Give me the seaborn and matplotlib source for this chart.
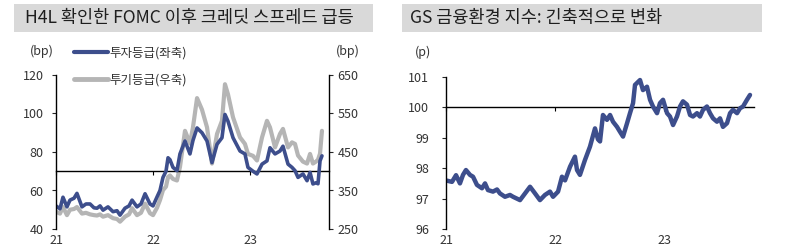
import numpy as np
import pandas as pd
import matplotlib
matplotlib.use("Agg")
import matplotlib.pyplot as plt
from matplotlib.patches import Rectangle
from matplotlib.lines import Line2D
import seaborn as sns

# ---------------- data ----------------
# Left chart: credit spreads (decimal year)
spread_year = [2021.000, 2021.041, 2021.072, 2021.113, 2021.144, 2021.186, 2021.216, 2021.268,
               2021.309, 2021.351, 2021.392, 2021.423, 2021.454, 2021.485, 2021.536, 2021.588,
               2021.629, 2021.660, 2021.711, 2021.753, 2021.784, 2021.835, 2021.876, 2021.918,
               2021.969, 2022.000, 2022.041, 2022.072, 2022.103, 2022.134, 2022.155, 2022.175,
               2022.206, 2022.247, 2022.278, 2022.330, 2022.381, 2022.412, 2022.454, 2022.505,
               2022.557, 2022.608, 2022.660, 2022.711, 2022.742, 2022.773, 2022.825, 2022.897,
               2022.948, 2022.979, 2023.031, 2023.072, 2023.124, 2023.175, 2023.206, 2023.258,
               2023.309, 2023.340, 2023.392, 2023.433, 2023.464, 2023.495, 2023.546, 2023.588,
               2023.619, 2023.649, 2023.680, 2023.701, 2023.722, 2023.742]
ig_spread = [52, 50.5, 56.5, 51.5, 55, 56, 58.5, 51.5,
             53, 53, 51, 50.8, 52, 49.8, 51.5, 49,
             49.5, 47.2, 50.8, 52, 55, 51.5, 53, 58.3,
             53, 52, 56.6, 60, 66.8, 70, 77, 76,
             72, 70.3, 79, 85.7, 79, 86, 92.5, 90,
             85.7, 74.5, 84, 87.4, 99.5, 96, 87.4, 80.5,
             79, 72, 70, 68.6, 73.7, 75.4, 82.2, 79,
             80.5, 83, 73.7, 72, 70.3, 66.8, 68.6, 65.1,
             69.4, 63.4, 64, 63.5, 75.4, 78]
hy_spread = [295, 290, 307, 286, 300, 302, 307, 290,
             292, 288, 286, 285, 288, 282, 286, 278,
             276, 269, 282, 288, 304, 286, 292, 316,
             291, 286, 305, 325, 351, 360, 385, 389,
             380, 376, 411, 505, 472, 514, 590, 560,
             514, 420, 497, 531, 626, 600, 540, 488,
             471, 445, 440, 428, 488, 531, 514, 462,
             497, 510, 462, 475, 471, 441, 425, 420,
             445, 420, 425, 430, 446, 505]

# Right chart: GS financial conditions index
fci_year = [2021.009, 2021.055, 2021.092, 2021.128, 2021.156, 2021.183, 2021.220, 2021.248,
            2021.284, 2021.330, 2021.358, 2021.385, 2021.431, 2021.468, 2021.495, 2021.541,
            2021.587, 2021.615, 2021.679, 2021.725, 2021.771, 2021.817, 2021.862, 2021.908,
            2021.954, 2021.982, 2022.028, 2022.064, 2022.092, 2022.138, 2022.183, 2022.202,
            2022.229, 2022.275, 2022.321, 2022.367, 2022.394, 2022.413, 2022.440, 2022.477,
            2022.505, 2022.532, 2022.569, 2022.596, 2022.624, 2022.661, 2022.688, 2022.716,
            2022.734, 2022.780, 2022.807, 2022.844, 2022.872, 2022.899, 2022.936, 2022.963,
            2022.991, 2023.028, 2023.055, 2023.083, 2023.119, 2023.147, 2023.174, 2023.211,
            2023.239, 2023.266, 2023.303, 2023.330, 2023.358, 2023.394, 2023.422, 2023.450,
            2023.486, 2023.514, 2023.541, 2023.578, 2023.606, 2023.633, 2023.670, 2023.697,
            2023.725, 2023.761, 2023.789]
fci_value = [97.59, 97.55, 97.77, 97.50, 97.78, 97.94, 97.78, 97.72,
             97.45, 97.34, 97.50, 97.28, 97.23, 97.30, 97.17, 97.06,
             97.12, 97.06, 96.95, 97.17, 97.39, 97.17, 96.95, 97.12,
             97.23, 97.06, 97.23, 97.72, 97.60, 98.05, 98.38, 97.94,
             97.78, 98.27, 98.71, 99.31, 98.95, 98.88, 99.75, 99.59,
             99.75, 99.53, 99.36, 99.20, 99.04, 99.48, 99.81, 100.14,
             100.74, 100.90, 100.57, 100.68, 100.25, 100.03, 99.81, 100.14,
             100.25, 99.81, 99.70, 99.42, 99.70, 100.03, 100.20, 100.09,
             99.75, 99.70, 99.81, 99.70, 99.92, 100.03, 99.81, 99.64,
             99.53, 99.64, 99.36, 99.48, 99.81, 99.92, 99.81, 99.97,
             100.03, 100.25, 100.41]

year_ticks = [2021, 2022, 2023]
year_labels = ["21", "22", "23"]
left_ticks = [40, 60, 80, 100, 120]
right_ticks = [250, 350, 450, 550, 650]
fci_ticks = [96, 97, 98, 99, 100, 101]

title_left = "H4L 확인한 FOMC 이후 크레딧 스프레드 급등"
title_right = "GS 금융환경 지수: 긴축적으로 변화"
label_ig = "투자등급(좌축)"
label_hy = "투기등급(우축)"

# ---------------- style ----------------
sns.set_style("white")
plt.rcParams["font.family"] = ["Noto Sans CJK KR", "DejaVu Sans"]
plt.rcParams["axes.unicode_minus"] = False

BLUE = "#3d4e8c"
GRAY = "#b5b5b5"
TXT = "#333333"
TICK_FS = 9

W, H = 800, 252
fig = plt.figure(figsize=(8, 2.52), dpi=100)
fig.patch.set_facecolor("white")

def fx(px):
    return px / W

def fy(py):
    return 1 - py / H

# title boxes
for x0, x1, txt, tx in [(14, 373, title_left, 25), (402, 762, title_right, 410)]:
    fig.patches.append(Rectangle((fx(x0), fy(32)), fx(x1 - x0), (32 - 4) / H,
                                 transform=fig.transFigure, facecolor="#d9d9d9",
                                 edgecolor="none", zorder=0))
    fig.text(fx(tx), fy(18.5), txt, fontsize=12.6, color="#1e1e1e",
             ha="left", va="center", fontweight="medium")

spread_df = pd.DataFrame({"year": spread_year, "ig": ig_spread, "hy": hy_spread})
fci_df = pd.DataFrame({"year": fci_year, "fci": fci_value})

def style_xaxis(ax, cross, xlim):
    ax.set_xlim(*xlim)
    ax.spines["bottom"].set_position(("data", cross))
    ax.spines["bottom"].set_color("black")
    ax.spines["bottom"].set_linewidth(1.0)
    ax.spines["bottom"].set_zorder(1)
    ax.set_xticks(year_ticks)
    ax.tick_params(axis="x", which="both", bottom=True, labelbottom=False,
                   direction="out", length=3, width=0.8, color="black")
    sec = ax.secondary_xaxis("bottom")
    sec.set_xticks(year_ticks, labels=year_labels)
    sec.spines["bottom"].set_visible(False)
    sec.tick_params(axis="x", length=0, pad=3.5, labelsize=TICK_FS, labelcolor=TXT)
    ax.set_xlabel("")

# ---------------- left chart ----------------
axL = fig.add_axes([fx(56), fy(229), fx(329 - 56), (229 - 75) / H])
axR = axL.twinx()

sns.lineplot(data=spread_df, x="year", y="hy", ax=axR, color=GRAY, linewidth=3.0,
             estimator=None, sort=False)
sns.lineplot(data=spread_df, x="year", y="ig", ax=axL, color=BLUE, linewidth=2.6,
             estimator=None, sort=False)
axL.set_zorder(axR.get_zorder() + 1)
axL.patch.set_visible(False)

axL.set_ylim(40, 120)
axR.set_ylim(250, 650)
axL.set_yticks(left_ticks)
axR.set_yticks(right_ticks)
axL.set_ylabel("")
axR.set_ylabel("")
xlim_left = (2021.0, 2021.0 + (329 - 56) / 97)
style_xaxis(axL, 70, xlim_left)
axR.set_xlim(*xlim_left)

for s in ["top", "right"]:
    axL.spines[s].set_visible(False)
for s in ["top", "left", "bottom"]:
    axR.spines[s].set_visible(False)
axL.spines["left"].set_color("black")
axR.spines["right"].set_color("black")
axL.spines["left"].set_linewidth(1.0)
axR.spines["right"].set_linewidth(1.0)
axL.tick_params(axis="y", left=True, direction="out", length=3, width=0.8,
                pad=6, labelsize=TICK_FS, labelcolor=TXT)
axR.tick_params(axis="y", right=True, direction="out", length=3, width=0.8,
                pad=3, labelsize=TICK_FS, labelcolor=TXT)

fig.text(fx(42), fy(51), "(bp)", fontsize=9, color=TXT, ha="center", va="center")
fig.text(fx(348), fy(51), "(bp)", fontsize=9, color=TXT, ha="center", va="center")

handles = [Line2D([], [], color=BLUE, linewidth=3.0),
           Line2D([], [], color=GRAY, linewidth=3.5)]
fig.legend(handles, [label_ig, label_hy], loc="upper left",
           bbox_to_anchor=(fx(70), fy(43)), frameon=False, fontsize=9,
           handlelength=2.75, handletextpad=0.12, labelspacing=1.12,
           borderaxespad=0, borderpad=0.3, labelcolor=TXT)

# ---------------- right chart ----------------
axF = fig.add_axes([fx(446), fy(229), fx(754 - 446), (229 - 77) / H])
sns.lineplot(data=fci_df, x="year", y="fci", ax=axF, color=BLUE, linewidth=3.2,
             estimator=None, sort=False)
axF.set_ylim(96, 101)
axF.set_yticks(fci_ticks)
axF.set_ylabel("")
style_xaxis(axF, 100, (2021.0, 2021.0 + (754 - 446) / 109))
for s in ["top", "right"]:
    axF.spines[s].set_visible(False)
axF.spines["left"].set_color("black")
axF.spines["left"].set_linewidth(1.0)
axF.tick_params(axis="y", left=True, direction="out", length=3, width=0.8,
                pad=9, labelsize=TICK_FS, labelcolor=TXT)
fig.text(fx(423), fy(52), "(p)", fontsize=9, color=TXT, ha="center", va="center")

fig.savefig("out.png", dpi=100, facecolor="white")
